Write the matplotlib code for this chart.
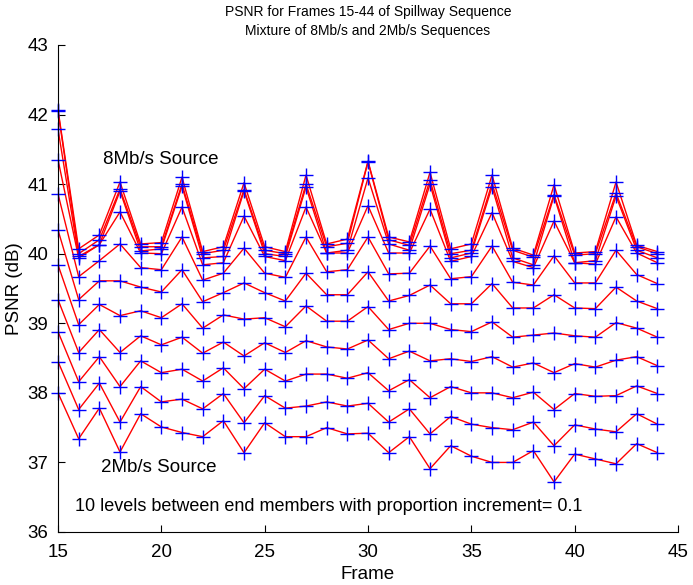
import matplotlib
matplotlib.use("Agg")
import matplotlib.pyplot as plt

plt.rcParams['font.family'] = ['Liberation Sans', 'DejaVu Sans']

# frames 15..44
frames = list(range(15, 45))

# PSNR (dB) for each mixture level, bottom (2Mb/s) to top (8Mb/s)
psnr_2mb = [38.00, 37.34, 37.78, 37.15, 37.70, 37.51, 37.43, 37.37, 37.60, 37.14,
            37.57, 37.37, 37.37, 37.50, 37.41, 37.42, 37.14, 37.37, 36.91, 37.24,
            37.09, 37.00, 37.00, 37.17, 36.72, 37.12, 37.05, 36.98, 37.27, 37.14]
psnr_p1 = [38.45, 37.76, 38.14, 37.58, 38.09, 37.87, 37.91, 37.77, 37.99, 37.57,
           37.96, 37.78, 37.81, 37.87, 37.81, 37.85, 37.58, 37.77, 37.41, 37.66,
           37.55, 37.50, 37.47, 37.58, 37.24, 37.54, 37.48, 37.44, 37.70, 37.55]
psnr_p2 = [38.88, 38.16, 38.52, 38.09, 38.46, 38.29, 38.34, 38.17, 38.36, 38.06,
           38.34, 38.17, 38.27, 38.27, 38.21, 38.29, 38.03, 38.19, 37.93, 38.09,
           38.00, 38.00, 37.93, 38.01, 37.76, 37.99, 37.95, 37.96, 38.10, 37.99]
psnr_p3 = [39.34, 38.58, 38.91, 38.58, 38.82, 38.69, 38.80, 38.57, 38.73, 38.53,
           38.72, 38.58, 38.75, 38.66, 38.63, 38.76, 38.49, 38.60, 38.46, 38.49,
           38.45, 38.52, 38.37, 38.43, 38.29, 38.42, 38.37, 38.47, 38.52, 38.39]
psnr_p4 = [39.84, 38.98, 39.27, 39.11, 39.18, 39.08, 39.28, 38.93, 39.12, 39.06,
           39.08, 38.95, 39.25, 39.03, 39.03, 39.24, 38.91, 39.00, 39.00, 38.91,
           38.88, 39.02, 38.80, 38.83, 38.86, 38.82, 38.80, 39.01, 38.93, 38.80]
psnr_p5 = [40.34, 39.34, 39.61, 39.61, 39.52, 39.45, 39.77, 39.31, 39.44, 39.58,
           39.44, 39.32, 39.72, 39.41, 39.41, 39.74, 39.32, 39.40, 39.55, 39.28,
           39.28, 39.57, 39.22, 39.22, 39.41, 39.22, 39.21, 39.52, 39.32, 39.21]
psnr_p6 = [40.86, 39.67, 39.90, 40.14, 39.80, 39.77, 40.24, 39.62, 39.72, 40.08,
           39.72, 39.66, 40.24, 39.74, 39.77, 40.24, 39.71, 39.72, 40.11, 39.64,
           39.67, 40.11, 39.59, 39.55, 39.97, 39.58, 39.58, 40.05, 39.70, 39.57]
psnr_p7 = [41.35, 39.94, 40.13, 40.60, 40.01, 40.00, 40.67, 39.84, 39.87, 40.54,
           39.96, 39.90, 40.67, 40.01, 40.01, 40.69, 40.01, 40.01, 40.64, 39.89,
           39.96, 40.59, 39.89, 39.80, 40.47, 39.87, 39.85, 40.53, 40.01, 39.87]
psnr_p8 = [41.79, 39.96, 40.13, 40.90, 40.04, 40.07, 40.97, 39.94, 39.96, 40.90,
           40.00, 39.96, 40.96, 40.01, 40.05, 41.09, 40.14, 40.05, 41.00, 39.94,
           40.01, 40.96, 39.94, 39.84, 40.83, 39.87, 39.90, 40.83, 40.05, 39.94]
psnr_p9 = [42.05, 40.00, 40.20, 40.93, 40.10, 40.10, 41.00, 40.00, 40.05, 40.92,
           40.05, 40.00, 41.00, 40.10, 40.15, 41.32, 40.20, 40.12, 41.06, 40.00,
           40.05, 41.01, 40.05, 39.95, 40.85, 39.98, 40.00, 40.87, 40.10, 40.00]
psnr_8mb = [42.07, 40.07, 40.27, 41.03, 40.14, 40.16, 41.10, 40.03, 40.10, 41.02,
            40.10, 40.03, 41.13, 40.14, 40.21, 41.33, 40.24, 40.17, 41.17, 40.07,
            40.14, 41.13, 40.08, 39.98, 40.99, 40.01, 40.03, 41.03, 40.12, 40.03]

levels = [psnr_2mb, psnr_p1, psnr_p2, psnr_p3, psnr_p4, psnr_p5,
          psnr_p6, psnr_p7, psnr_p8, psnr_p9, psnr_8mb]

fig = plt.figure(figsize=(6.93, 5.85), dpi=100)
ax = fig.add_axes([0.0837, 0.0906, 0.8947, 0.8325])

for psnr in levels:
    ax.plot(frames, psnr, color='red', linewidth=1.0)
for psnr in levels:
    ax.plot(frames, psnr, linestyle='none', marker='+', color='blue',
            markersize=9.5, markeredgewidth=1.0, clip_on=False)

ax.set_xlim(15, 45)
ax.set_ylim(36, 43)
ax.set_xticks(range(15, 46, 5))
ax.set_yticks(range(36, 44))
ax.tick_params(direction='in', length=5, labelsize=13.5)
ax.tick_params(axis='x', pad=9)
ax.tick_params(axis='y', pad=7)
ax.spines['top'].set_visible(False)
ax.spines['right'].set_visible(False)

ax.set_xlabel('Frame', fontsize=13.5, labelpad=3)
ax.set_ylabel('PSNR (dB)', fontsize=13.5, labelpad=3)
ax.set_title('PSNR for Frames 15-44 of Spillway Sequence\n'
             'Mixture of 8Mb/s and 2Mb/s Sequences', fontsize=10, pad=7,
             linespacing=1.45)

ax.text(17.2, 41.35, '8Mb/s Source', fontsize=13.5, va='center')
ax.text(17.1, 36.93, '2Mb/s Source', fontsize=13.5, va='center')
ax.text(15.8, 36.36, '10 levels between end members with proportion increment= 0.1',
        fontsize=13, va='center')

fig.savefig('out.png', dpi=100)
